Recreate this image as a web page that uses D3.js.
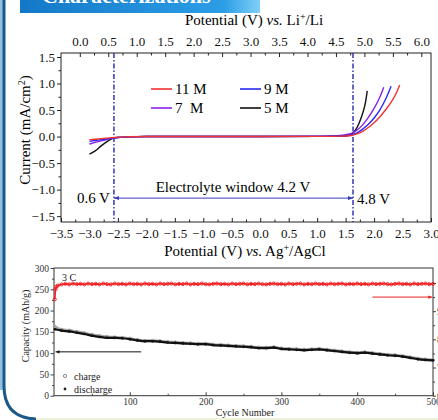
<!DOCTYPE html>
<html>
<head>
<meta charset="utf-8">
<script src="https://cdn.jsdelivr.net/npm/d3@7"></script>
<style>
  body { margin: 0; background: #fff; }
  svg { display: block; font-family: "Liberation Serif", "DejaVu Serif", serif; }
</style>
</head>
<body>
<svg id="chart" width="438" height="420"></svg>
<script>
"use strict";

// ---- top chart: linear sweep voltammetry ----
const seriesNames = ["11 M", "9 M", "7  M", "5 M"];
const seriesColors = ["#f03232", "#2a2af5", "#8a22e8", "#111111"];

const pot11 = [-3.0, -2.9, -2.8, -2.7, -2.6, -2.5, -2.3, -2.0, -1.0, 0.0, 1.0, 1.4, 1.6, 1.7, 1.8, 1.9, 2.0, 2.1, 2.2, 2.3, 2.4, 2.45];
const cur11 = [-0.06, -0.05, -0.04, -0.03, -0.02, -0.01, -0.004, 0, 0, 0, 0.003, 0.008, 0.02, 0.05, 0.1, 0.17, 0.26, 0.37, 0.5, 0.65, 0.84, 0.97];
const pot9 = [-3.0, -2.9, -2.8, -2.7, -2.6, -2.5, -2.3, -2.0, -1.0, 0.0, 1.0, 1.4, 1.6, 1.7, 1.8, 1.9, 2.0, 2.1, 2.2, 2.3];
const cur9 = [-0.09, -0.075, -0.06, -0.045, -0.03, -0.015, -0.005, 0, 0, 0, 0.004, 0.01, 0.03, 0.07, 0.14, 0.23, 0.35, 0.5, 0.7, 0.95];
const pot7 = [-3.0, -2.9, -2.8, -2.7, -2.6, -2.5, -2.3, -2.0, -1.0, 0.0, 1.0, 1.4, 1.5, 1.6, 1.7, 1.8, 1.9, 2.0, 2.1, 2.17];
const cur7 = [-0.14, -0.11, -0.08, -0.055, -0.035, -0.018, -0.005, 0, 0, 0, 0.006, 0.02, 0.035, 0.06, 0.12, 0.22, 0.36, 0.53, 0.74, 0.93];
const pot5 = [-3.0, -2.9, -2.8, -2.7, -2.6, -2.5, -2.3, -2.0, -1.0, 0.0, 1.0, 1.4, 1.55, 1.6, 1.65, 1.7, 1.75, 1.8, 1.85, 1.88];
const cur5 = [-0.33, -0.27, -0.18, -0.1, -0.04, -0.018, -0.005, 0, 0, 0, 0.003, 0.008, 0.02, 0.04, 0.09, 0.17, 0.29, 0.44, 0.65, 0.86];

const agTicks = [-3.5, -3.0, -2.5, -2.0, -1.5, -1.0, -0.5, 0.0, 0.5, 1.0, 1.5, 2.0, 2.5, 3.0];
const liTicks = [0.0, 0.5, 1.0, 1.5, 2.0, 2.5, 3.0, 3.5, 4.0, 4.5, 5.0, 5.5, 6.0];
const currentTicks = [-1.5, -1.0, -0.5, 0.0, 0.5, 1.0, 1.5];
const liOffset = 3.17;          // Li+/Li = Ag+/AgCl + offset
const windowEdges = [-2.57, 1.63];
const windowY = -1.16;

// ---- bottom chart: cycling at 3 C ----
const cycles = [1, 10, 20, 30, 40, 50, 60, 70, 80, 90, 100, 110, 120, 130, 140, 150, 160, 170, 180, 190, 200,
  210, 220, 230, 240, 250, 260, 270, 280, 290, 300, 310, 320, 330, 340, 350, 360, 370, 380, 390, 400,
  410, 420, 430, 440, 450, 460, 470, 480, 490, 500];
const discharge = [156, 153, 151, 148, 145, 141, 138, 136, 136, 135, 133, 130, 128, 128, 127, 125, 124, 123, 122, 121, 121,
  119, 118, 117, 116, 115, 114, 112, 112, 113, 110, 109, 108, 107, 108, 109, 107, 105, 103, 101, 100,
  101, 99, 97, 95, 94, 92, 89, 86, 84, 83];
const charge = [162, 155, 153, 150, 147, 143, 140, 138, 137, 136, 134, 131, 129, 129, 128, 126, 125, 124, 123, 122, 122,
  120, 119, 118, 117, 116, 115, 113, 113, 114, 111, 110, 109, 108, 109, 110, 108, 106, 104, 102, 101,
  102, 100, 98, 96, 95, 93, 90, 87, 85, 84];
const effCycles = [1, 2, 3, 5, 10, 15, 20, 25, 30, 35, 40, 45, 50, 55, 60, 65, 70, 75, 80, 85, 90, 95, 100,
  105, 110, 115, 120, 125, 130, 135, 140, 145, 150, 155, 160, 165, 170, 175, 180, 185, 190, 195, 200,
  205, 210, 215, 220, 225, 230, 235, 240, 245, 250, 255, 260, 265, 270, 275, 280, 285, 290, 295, 300,
  305, 310, 315, 320, 325, 330, 335, 340, 345, 350, 355, 360, 365, 370, 375, 380, 385, 390, 395, 400,
  405, 410, 415, 420, 425, 430, 435, 440, 445, 450, 455, 460, 465, 470, 475, 480, 485, 490, 495, 500];
const efficiency = [94.2, 97.8, 98.7, 99.1, 99.5, 99.7, 99.5, 99.8, 99.6, 99.7, 99.5, 99.8, 99.6, 99.7, 99.5, 99.8, 99.6, 99.5, 99.8, 99.6, 99.7, 99.5, 99.8,
  99.6, 99.7, 99.5, 99.8, 99.6, 99.7, 99.5, 99.8, 99.6, 99.7, 99.8, 99.5, 99.7, 99.6, 99.8, 99.5, 99.7, 99.6, 99.8, 99.6,
  99.5, 99.7, 99.8, 99.6, 99.7, 99.5, 99.8, 99.6, 99.7, 99.8, 99.5, 99.7, 99.6, 99.8, 99.6, 99.5, 99.7, 99.8, 99.6, 99.7,
  99.5, 99.8, 99.6, 99.7, 99.8, 99.5, 99.7, 99.6, 99.8, 99.6, 99.7, 99.5, 99.8, 99.6, 99.7, 99.8, 99.5, 99.7, 99.6, 99.8,
  99.6, 99.7, 99.5, 99.8, 99.6, 99.7, 99.8, 99.6, 99.5, 99.7, 99.8, 99.6, 99.7, 99.5, 99.8, 99.6, 99.7, 99.8, 99.6, 99.7];
const capTicks = [0, 50, 100, 150, 200, 250, 300];
const cycleTicks = [100, 200, 300, 400, 500];
const effTicks = [60, 70, 80, 90, 100];

const svg = d3.select("#chart");
const defs = svg.append("defs");

// ---------- decoration: frame + header ----------
const grad = defs.append("linearGradient").attr("id", "hdr");
grad.append("stop").attr("offset", "0%").attr("stop-color", "#1478c8");
grad.append("stop").attr("offset", "85%").attr("stop-color", "#2c9ee6");
grad.append("stop").attr("offset", "100%").attr("stop-color", "#7fd0f6");
svg.append("rect").attr("x", 20).attr("y", 0).attr("width", 240).attr("height", 13).attr("fill", "url(#hdr)");
svg.append("text").attr("x", 42).attr("y", 3).attr("fill", "#fff")
  .attr("font-size", 22).attr("font-weight", "bold").text("Characterizations");

svg.append("rect").attr("x", 0).attr("y", 0).attr("width", 3).attr("height", 390).attr("fill", "#8fc3e0");
svg.append("line").attr("x1", 30).attr("x2", 438).attr("y1", 419).attr("y2", 419)
  .attr("stroke", "#eef3d8").attr("stroke-width", 2);
svg.append("path")
  .attr("d", "M4,0 L4,386 Q4,418 36,419")
  .attr("fill", "none").attr("stroke", "#1b5a88").attr("stroke-width", 3);

// ---------- top chart ----------
const T = { left: 61, right: 431, top: 53, bottom: 222 };
const x1 = d3.scaleLinear().domain([-3.5, 3.0]).range([T.left, T.right]);
const xLi = d3.scaleLinear().domain([-3.5 + liOffset, 3.0 + liOffset]).range([T.left, T.right]);
const y1 = d3.scaleLinear().domain([-1.61, 1.575]).range([T.bottom, T.top]);

const gTop = svg.append("g").attr("font-size", 13);

// minor ticks
const agMinor = d3.range(-3.25, 3.0, 0.5);
const curMinor = d3.range(-1.25, 1.5, 0.5);

gTop.append("g").attr("transform", `translate(0,${T.bottom})`)
  .call(d3.axisBottom(x1).tickValues(agTicks).tickFormat(d3.format(".1f")).tickSizeInner(-4).tickSizeOuter(0).tickPadding(7))
  .call(g => g.select(".domain").remove());
gTop.append("g").attr("transform", `translate(0,${T.bottom})`)
  .call(d3.axisBottom(x1).tickValues(agMinor).tickFormat("").tickSizeInner(-2.5).tickSizeOuter(0))
  .call(g => g.select(".domain").remove());
gTop.append("g").attr("transform", `translate(0,${T.top})`)
  .call(d3.axisTop(xLi).tickValues(liTicks).tickFormat(d3.format(".1f")).tickSizeInner(-4).tickSizeOuter(0).tickPadding(7))
  .call(g => g.select(".domain").remove());
gTop.append("g").attr("transform", `translate(0,${T.top})`)
  .call(d3.axisTop(xLi).tickValues(d3.range(0.25, 6.2, 0.5)).tickFormat("").tickSizeInner(-2.5).tickSizeOuter(0))
  .call(g => g.select(".domain").remove());
gTop.append("g").attr("transform", `translate(${T.left},0)`)
  .call(d3.axisLeft(y1).tickValues(currentTicks).tickFormat(d3.format(".1f")).tickSizeInner(4).tickSizeOuter(0).tickPadding(2))
  .call(g => g.select(".domain").remove());
gTop.append("g").attr("transform", `translate(${T.left},0)`)
  .call(d3.axisLeft(y1).tickValues(curMinor).tickFormat("").tickSizeInner(2.5).tickSizeOuter(0))
  .call(g => g.select(".domain").remove());
gTop.selectAll(".tick text").attr("font-family", "Liberation Serif").attr("font-size", 13).attr("fill", "#111");
gTop.selectAll(".tick line").attr("stroke", "#222");

gTop.append("rect").attr("x", T.left).attr("y", T.top)
  .attr("width", T.right - T.left).attr("height", T.bottom - T.top)
  .attr("fill", "none").attr("stroke", "#222").attr("stroke-width", 1);

// axis titles
const liTitle = gTop.append("text").attr("x", 254).attr("y", 25).attr("text-anchor", "middle").attr("font-size", 15);
liTitle.append("tspan").text("Potential (V) ");
liTitle.append("tspan").attr("font-style", "italic").text("vs.");
liTitle.append("tspan").text(" Li");
liTitle.append("tspan").attr("baseline-shift", "super").attr("font-size", 10).text("+");
liTitle.append("tspan").text("/Li");

const agTitle = gTop.append("text").attr("x", 245).attr("y", 256).attr("text-anchor", "middle").attr("font-size", 15);
agTitle.append("tspan").text("Potential (V) ");
agTitle.append("tspan").attr("font-style", "italic").text("vs.");
agTitle.append("tspan").text(" Ag");
agTitle.append("tspan").attr("baseline-shift", "super").attr("font-size", 10).text("+");
agTitle.append("tspan").text("/AgCl");

const curTitle = gTop.append("text").attr("transform", "translate(30,130) rotate(-90)")
  .attr("text-anchor", "middle").attr("font-size", 15);
curTitle.append("tspan").text("Current (mA/cm");
curTitle.append("tspan").attr("baseline-shift", "super").attr("font-size", 10).text("2");
curTitle.append("tspan").text(")");

// window lines
gTop.selectAll(".win").data(windowEdges).enter().append("line")
  .attr("x1", d => x1(d)).attr("x2", d => x1(d))
  .attr("y1", T.top).attr("y2", T.bottom)
  .attr("stroke", "#2626b0").attr("stroke-width", 1.4).attr("stroke-dasharray", "5,2,1.5,2");

// curves
const lsvSeries = [
  { name: seriesNames[0], color: seriesColors[0], pts: d3.zip(pot11, cur11) },
  { name: seriesNames[1], color: seriesColors[1], pts: d3.zip(pot9, cur9) },
  { name: seriesNames[2], color: seriesColors[2], pts: d3.zip(pot7, cur7) },
  { name: seriesNames[3], color: seriesColors[3], pts: d3.zip(pot5, cur5) }
];
const lsvLine = d3.line().x(d => x1(d[0])).y(d => y1(d[1])).curve(d3.curveMonotoneX);
gTop.selectAll(".lsv").data(lsvSeries.slice().reverse()).enter().append("path")
  .attr("d", d => lsvLine(d.pts)).attr("fill", "none")
  .attr("stroke", d => d.color).attr("stroke-width", 1.4);

// legend
const legPos = [[151, 89], [240, 89], [151, 108], [240, 108]];
lsvSeries.forEach((s, i) => {
  const [lx, ly] = legPos[i];
  gTop.append("line").attr("x1", lx).attr("x2", lx + 21).attr("y1", ly).attr("y2", ly)
    .attr("stroke", s.color).attr("stroke-width", 1.6);
  gTop.append("text").attr("x", lx + 24).attr("y", ly + 5).attr("font-size", 15)
    .style("white-space", "pre").text(s.name);
});

// electrolyte window arrow
defs.append("marker").attr("id", "arrB").attr("viewBox", "0 0 10 10").attr("refX", 10).attr("refY", 5)
  .attr("markerWidth", 5).attr("markerHeight", 5).attr("orient", "auto-start-reverse")
  .append("path").attr("d", "M0,1 L10,5 L0,9 Z").attr("fill", "#3a3ac0");
gTop.append("line").attr("x1", x1(windowEdges[0])).attr("x2", x1(windowEdges[1]))
  .attr("y1", y1(windowY)).attr("y2", y1(windowY))
  .attr("stroke", "#3a3ac0").attr("stroke-width", 1)
  .attr("marker-start", "url(#arrB)").attr("marker-end", "url(#arrB)");
gTop.append("text").attr("x", 233).attr("y", y1(windowY) - 6).attr("text-anchor", "middle")
  .attr("font-size", 15).text("Electrolyte window 4.2 V");
gTop.append("text").attr("x", x1(windowEdges[0]) - 4).attr("y", y1(windowY) + 5).attr("text-anchor", "end")
  .attr("font-size", 15).text("0.6 V");
gTop.append("text").attr("x", x1(windowEdges[1]) + 4).attr("y", y1(windowY) + 6)
  .attr("font-size", 15).text("4.8 V");

// ---------- bottom chart ----------
const B = { left: 54, right: 433, top: 268, bottom: 395.7 };
const x2 = d3.scaleLinear().domain([0, 500]).range([B.left, B.right]);
const y2 = d3.scaleLinear().domain([0, 300]).range([B.bottom, B.top]);
const y3 = d3.scaleLinear().domain([60, 100]).range([B.bottom, 283]);

const gBot = svg.append("g");
gBot.append("g").attr("transform", `translate(0,${B.bottom})`)
  .call(d3.axisBottom(x2).tickValues(cycleTicks).tickSizeInner(-3.5).tickSizeOuter(0).tickPadding(3))
  .call(g => g.select(".domain").remove());
gBot.append("g").attr("transform", `translate(0,${B.bottom})`)
  .call(d3.axisBottom(x2).tickValues([50, 150, 250, 350, 450]).tickFormat("").tickSizeInner(-2).tickSizeOuter(0))
  .call(g => g.select(".domain").remove());
gBot.append("g").attr("transform", `translate(${B.left},0)`)
  .call(d3.axisLeft(y2).tickValues(capTicks).tickSizeInner(3.5).tickSizeOuter(0).tickPadding(1.5))
  .call(g => g.select(".domain").remove());
gBot.append("g").attr("transform", `translate(${B.left},0)`)
  .call(d3.axisLeft(y2).tickValues([25, 75, 125, 175, 225, 275]).tickFormat("").tickSizeInner(2).tickSizeOuter(0))
  .call(g => g.select(".domain").remove());
gBot.append("g").attr("transform", `translate(${B.right},0)`)
  .call(d3.axisRight(y3).tickValues(effTicks).tickSizeInner(3).tickSizeOuter(0).tickPadding(1))
  .call(g => g.select(".domain").remove());
gBot.append("g").attr("transform", `translate(${B.right},0)`)
  .call(d3.axisRight(y3).tickValues([65, 75, 85, 95]).tickFormat("").tickSizeInner(2).tickSizeOuter(0))
  .call(g => g.select(".domain").remove());
gBot.selectAll(".tick text").attr("font-family", "Liberation Serif").attr("font-size", 9.5).attr("fill", "#333");
gBot.selectAll(".tick line").attr("stroke", "#444");

gBot.append("rect").attr("x", B.left).attr("y", B.top)
  .attr("width", B.right - B.left).attr("height", B.bottom - B.top)
  .attr("fill", "none").attr("stroke", "#333").attr("stroke-width", 1);

gBot.append("text").attr("transform", "translate(29,326) rotate(-90)").attr("text-anchor", "middle")
  .attr("font-size", 10).attr("fill", "#222").text("Capacity (mAh/g)");
gBot.append("text").attr("x", 245).attr("y", 416).attr("text-anchor", "middle")
  .attr("font-size", 10).attr("fill", "#222").text("Cycle Number");
gBot.append("text").attr("x", 62).attr("y", 281).attr("font-size", 10).attr("fill", "#222").text("3 C");

// efficiency (red)
const effPts = d3.zip(effCycles, efficiency);
gBot.append("path").attr("d", d3.line().x(d => x2(d[0])).y(d => y3(d[1]))(effPts))
  .attr("fill", "none").attr("stroke", "#f02020").attr("stroke-width", 1.6);
gBot.selectAll(".eff").data(effPts).enter().append("circle")
  .attr("cx", d => x2(d[0])).attr("cy", d => y3(d[1])).attr("r", 1.6)
  .attr("fill", "none").attr("stroke", "#f02020").attr("stroke-width", 0.9);

// charge / discharge
const capLine = d3.line().x(d => x2(d[0])).y(d => y2(d[1])).curve(d3.curveMonotoneX);
const chPts = d3.zip(cycles, charge);
const disPts = d3.zip(cycles, discharge);
gBot.append("path").attr("d", capLine(chPts)).attr("fill", "none").attr("stroke", "#a8a8a8").attr("stroke-width", 3);
gBot.selectAll(".ch").data(chPts).enter().append("circle")
  .attr("cx", d => x2(d[0])).attr("cy", d => y2(d[1])).attr("r", 1.6)
  .attr("fill", "none").attr("stroke", "#9a9a9a").attr("stroke-width", 0.8);
gBot.append("path").attr("d", capLine(disPts)).attr("fill", "none").attr("stroke", "#111").attr("stroke-width", 2.2);
gBot.selectAll(".dis").data(disPts).enter().append("circle")
  .attr("cx", d => x2(d[0])).attr("cy", d => y2(d[1])).attr("r", 1.3).attr("fill", "#111");

// arrows
defs.append("marker").attr("id", "arrK").attr("viewBox", "0 0 10 10").attr("refX", 10).attr("refY", 5)
  .attr("markerWidth", 4).attr("markerHeight", 4).attr("orient", "auto")
  .append("path").attr("d", "M0,1 L10,5 L0,9 Z").attr("fill", "#111");
defs.append("marker").attr("id", "arrR").attr("viewBox", "0 0 10 10").attr("refX", 10).attr("refY", 5)
  .attr("markerWidth", 4).attr("markerHeight", 4).attr("orient", "auto")
  .append("path").attr("d", "M0,1 L10,5 L0,9 Z").attr("fill", "#e82020");
gBot.append("line").attr("x1", x2(115)).attr("x2", x2(2)).attr("y1", y2(103)).attr("y2", y2(103))
  .attr("stroke", "#111").attr("stroke-width", 1).attr("marker-end", "url(#arrK)");
gBot.append("line").attr("x1", x2(420)).attr("x2", x2(499)).attr("y1", y3(95)).attr("y2", y3(95))
  .attr("stroke", "#e82020").attr("stroke-width", 1).attr("marker-end", "url(#arrR)");

// legend
gBot.append("circle").attr("cx", 65).attr("cy", 376).attr("r", 1.6).attr("fill", "none").attr("stroke", "#888");
gBot.append("text").attr("x", 74).attr("y", 380).attr("font-size", 10).attr("fill", "#222").text("charge");
gBot.append("circle").attr("cx", 65).attr("cy", 389).attr("r", 1.4).attr("fill", "#222");
gBot.append("text").attr("x", 74).attr("y", 393).attr("font-size", 10).attr("fill", "#222").text("discharge");
</script>
</body>
</html>
